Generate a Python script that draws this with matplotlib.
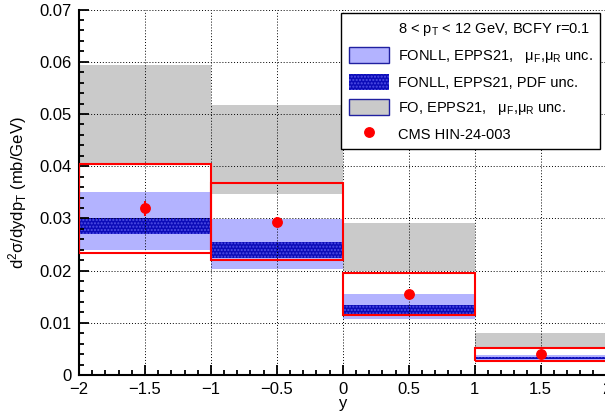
import numpy as np
import matplotlib
matplotlib.use("Agg")
import matplotlib.pyplot as plt
from matplotlib.patches import Patch
from matplotlib.lines import Line2D
from matplotlib.ticker import MultipleLocator

plt.rcParams['font.family'] = ['Liberation Sans', 'DejaVu Sans']
plt.rcParams['mathtext.fontset'] = 'custom'
plt.rcParams['mathtext.rm'] = 'Liberation Sans'
plt.rcParams['mathtext.it'] = 'Liberation Sans:italic'
plt.rcParams['hatch.linewidth'] = 1.0

# rapidity bins (left edges, width 1)
y_edges = [-2, -1, 0, 1]

# FO, EPPS21, muF/muR band
fo_lo = [0.0404, 0.0347, 0.0200, 0.0053]
fo_hi = [0.0594, 0.0518, 0.0292, 0.0081]

# FONLL, EPPS21, muF/muR band
fonll_scale_lo = [0.0239, 0.0204, 0.0107, 0.0029]
fonll_scale_hi = [0.0350, 0.0298, 0.0156, 0.0039]

# FONLL, EPPS21, PDF band
fonll_pdf_lo = [0.0270, 0.0225, 0.0116, 0.0030]
fonll_pdf_hi = [0.0301, 0.0255, 0.0134, 0.0035]

# CMS HIN-24-003 points
y_centers = [-1.5, -0.5, 0.5, 1.5]
cms = [0.0319, 0.0294, 0.0155, 0.0040]
cms_stat = [0.0015, 0.0008, 0.0006, 0.0003]
cms_syst = [0.0085, 0.0073, 0.0041, 0.00125]

light_blue = '#b3b3ff'
dark_blue = '#0c0cb8'
dot_blue = '#5050e6'
gray = '#cacaca'

fig = plt.figure(figsize=(6.05, 4.11), dpi=100)
ax = fig.add_axes([0.1306, 0.0876, 0.872, 0.889])

lo = np.array(fo_lo); hi = np.array(fo_hi)
ax.bar(y_edges, hi - lo, bottom=lo, width=1, align='edge', color=gray, linewidth=0, zorder=1)
lo = np.array(fonll_scale_lo); hi = np.array(fonll_scale_hi)
ax.bar(y_edges, hi - lo, bottom=lo, width=1, align='edge', color=light_blue, linewidth=0, zorder=1.1)
lo = np.array(fonll_pdf_lo); hi = np.array(fonll_pdf_hi)
ax.bar(y_edges, hi - lo, bottom=lo, width=1, align='edge', facecolor=dark_blue,
       edgecolor=dot_blue, hatch='.....', linewidth=0, zorder=1.2)

# systematic boxes
c = np.array(cms); s = np.array(cms_syst)
ax.bar(y_edges, 2 * s, bottom=c - s, width=1, align='edge', fill=False,
       edgecolor='#ff0000', linewidth=1.5, zorder=2.7)
ax.errorbar(y_centers, cms, yerr=cms_stat, fmt='o', color='#ff0000', ms=6.8,
            elinewidth=1.5, capsize=0, zorder=3)

ax.set_xlim(-2, 2)
ax.set_ylim(0, 0.07)
ax.xaxis.set_minor_locator(MultipleLocator(0.1))
ax.yaxis.set_minor_locator(MultipleLocator(0.002))
ax.set_xticks([-2, -1.5, -1, -0.5, 0, 0.5, 1, 1.5, 2])
ax.set_xticklabels(['\u22122', '\u22121.5', '\u22121', '\u22120.5', '0', '0.5', '1', '1.5', '2'])
ax.set_yticks([0, 0.01, 0.02, 0.03, 0.04, 0.05, 0.06, 0.07])
ax.set_yticklabels(['0', '0.01', '0.02', '0.03', '0.04', '0.05', '0.06', '0.07'])

ax.tick_params(which='both', direction='in', top=False, right=False, labelsize=12, width=1.3)
ax.tick_params(which='major', length=7.5, pad=5)
ax.tick_params(which='minor', length=3.8)
for sp in ['top', 'right']:
    ax.spines[sp].set_visible(False)
for sp in ['left', 'bottom']:
    ax.spines[sp].set_linewidth(1.5)

ax.set_axisbelow(False)
ax.grid(True, which='major', color='k', linestyle=(0, (1, 2)), linewidth=0.7)

ax.set_xlabel('y', fontsize=12, labelpad=-1)
ax.set_ylabel(r'd$^{2}$σ/dydp$_{\mathrm{T}}$ (mb/GeV)', fontsize=12, labelpad=8)

handles = [
    Line2D([], [], linestyle='none'),
    Patch(facecolor=light_blue, edgecolor='#2020a0', linewidth=1),
    Patch(facecolor=dark_blue, edgecolor=dot_blue, hatch='.....', linewidth=0),
    Patch(facecolor=gray, edgecolor='#2020a0', linewidth=1),
    Line2D([], [], linestyle='none', marker='o', color='#ff0000', ms=6.8),
]
labels = [
    r'8 < p$_{\mathrm{T}}$ < 12 GeV, BCFY r=0.1',
    r'FONLL, EPPS21,   μ$_{\mathrm{F}}$,μ$_{\mathrm{R}}$ unc.',
    'FONLL, EPPS21, PDF unc.',
    r'FO, EPPS21,   μ$_{\mathrm{F}}$,μ$_{\mathrm{R}}$ unc.',
    'CMS HIN-24-003',
]
leg = ax.legend(handles, labels, loc='upper right', bbox_to_anchor=(0.988, 0.991),
                borderaxespad=0, fontsize=10.5, handlelength=2.8, handleheight=1.3,
                handletextpad=0.6, labelspacing=0.62, borderpad=0.5,
                fancybox=False, framealpha=1, edgecolor='k')
leg.get_frame().set_linewidth(1.0)
leg.set_zorder(5)

fig.savefig('out.png', dpi=100)
